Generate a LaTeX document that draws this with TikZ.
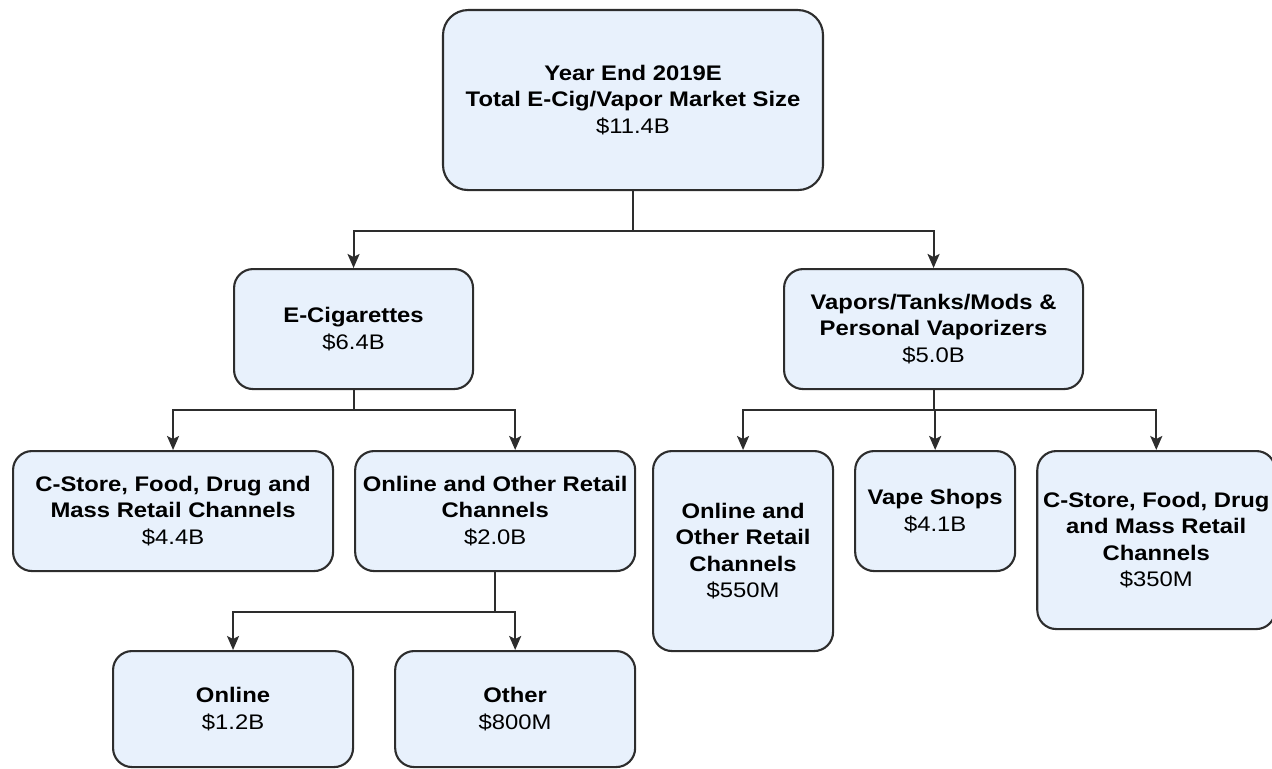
\documentclass[tikz,border=0pt]{standalone}
\usepackage{fontspec}
\setmainfont[FakeStretch=1.13]{Liberation Sans}
\usepackage{xcolor}
\usepackage{tikz}
\usetikzlibrary{positioning,arrows.meta}
\definecolor{boxfill}{RGB}{232,241,252}
\definecolor{boxline}{RGB}{45,45,45}

\begin{document}
\begin{tikzpicture}[font=\fontsize{12}{15}\selectfont,
 bx/.style={draw=boxline,line width=1.2pt,rounded corners=0.38cm,fill=boxfill,align=center,inner sep=0pt},
 arr/.style={draw=boxline,line width=1.2pt,-{Stealth[length=0.28cm,width=0.24cm,inset=0.06cm]}}]
 \useasboundingbox (0,0) rectangle (25.44,-15.36);
 % top level
 \node[bx,rounded corners=0.5cm,minimum width=7.6cm,minimum height=3.6cm,anchor=north](total) at (12.66,-0.18)
   {\textbf{Year End 2019E}\\\textbf{Total E-Cig/Vapor Market Size}\\\$11.4B};
 \node[bx,minimum width=4.78cm,minimum height=2.4cm,anchor=north west](ecig) at (4.66,-5.36)
   {\textbf{E-Cigarettes}\\\$6.4B};
 \node[bx,minimum width=5.98cm,minimum height=2.4cm,anchor=north west](vap) at (15.66,-5.36)
   {\textbf{Vapors/Tanks/Mods \&}\\\textbf{Personal Vaporizers}\\\$5.0B};
 % e-cigarette channels
 \node[bx,minimum width=6.4cm,minimum height=2.4cm,anchor=north west](cs1) at (0.24,-9.0)
   {\textbf{C-Store, Food, Drug and}\\\textbf{Mass Retail Channels}\\\$4.4B};
 \node[bx,minimum width=5.6cm,minimum height=2.4cm,right=0.4cm of cs1](oo1)
   {\textbf{Online and Other Retail}\\\textbf{Channels}\\\$2.0B};
 \node[bx,minimum width=4.8cm,minimum height=2.32cm,anchor=north west](onl) at (2.24,-13.0)
   {\textbf{Online}\\\$1.2B};
 \node[bx,minimum width=4.8cm,minimum height=2.32cm,right=0.8cm of onl](oth)
   {\textbf{Other}\\\$800M};
 % vapor channels
 \node[bx,minimum width=3.6cm,minimum height=4.0cm,anchor=north west](oo2) at (13.04,-9.0)
   {\textbf{Online and}\\\textbf{Other Retail}\\\textbf{Channels}\\\$550M};
 \node[bx,minimum width=3.2cm,minimum height=2.4cm,right=0.4cm of oo2.north east,anchor=north west](vs)
   {\textbf{Vape Shops}\\\$4.1B};
 \node[bx,minimum width=4.76cm,minimum height=3.56cm,right=0.4cm of vs.north east,anchor=north west](cs2)
   {\textbf{C-Store, Food, Drug}\\\textbf{and Mass Retail}\\\textbf{Channels}\\\$350M};
 % connectors
 \draw[arr](total.south)--++(0,-0.8)-|(ecig.north);
 \draw[arr](total.south)--++(0,-0.8)-|(vap.north);
 \draw[arr](ecig.south)--++(0,-0.4)-|(cs1.north);
 \draw[arr](ecig.south)--++(0,-0.4)-|([xshift=0.4cm]oo1.north);
 \draw[arr](oo1.south)--++(0,-0.8)-|(onl.north);
 \draw[arr](oo1.south)--++(0,-0.8)-|(oth.north);
 \draw[arr](vap.south)--++(0,-0.4)-|(oo2.north);
 \draw[arr](vap.south)--++(0,-0.4)-|(vs.north);
 \draw[arr](vap.south)--++(0,-0.4)-|(cs2.north);
\end{tikzpicture}
\end{document}
